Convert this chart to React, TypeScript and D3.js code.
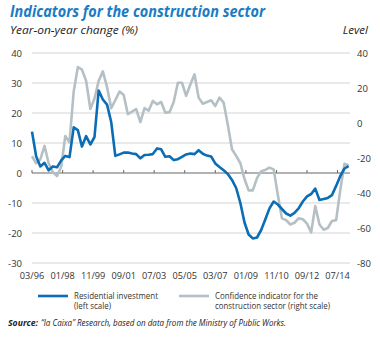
import React from 'react';
import * as d3 from 'd3';

// quarterly observations, first one is March 1996
const startMonth = new Date(1996, 2, 1);

const residential = [
  13.8, 5.5, 2.2, 3.4, 0.9, 2.2, 1.9, 4.2, 5.7, 5.3,
  15.2, 14.3, 8.8, 12.3, 9.5, 12, 27.5, 24.5, 22.8, 17,
  5.7, 6.2, 6.8, 6.8, 6.5, 6.3, 4.9, 6, 6.1, 6.3,
  8.2, 7.9, 5.4, 5.6, 4.3, 4.6, 5.4, 6.2, 6.5, 6.3,
  7.6, 6.4, 5.8, 5.5, 3.2, 2, 0.9, -0.3, -2.3, -5,
  -10, -16.5, -20.5, -21.8, -21.5, -19, -15.5, -11.8, -9.5, -10.5,
  -12, -13.5, -14.2, -13.3, -11.8, -9.5, -7.8, -7, -5.2, -9,
  -8.7, -8.3, -7.4, -4.3, -1, 1.5, 2.3
];

const confidence = [
  -19, -23, -20.7, -13.1, -23, -28.2, -30.3, -25, -7.4, -11,
  18, 32, 30.5, 24, 8, 14, 24, 29.5, 20.5, 8.5,
  13, 18, 16, 5, 6.5, 8, 0.5, 8.5, 7, 12.6,
  10.7, 12, 5.9, 6.2, 12, 23, 23, 15.5, 22, 27.8,
  14.5, 11, 12, 13, 9.7, 14.5, 11.6, -1, -15, -18.8,
  -23, -32, -38.5, -38.5, -31.5, -27.5, -26.8, -25.5, -26.5, -41,
  -54.5, -55.5, -58, -57, -54.5, -55, -57.5, -62.5, -47.4, -58,
  -61, -60, -56, -55.5, -38, -23.3, -24.3
];

const leftTicks = [40, 30, 20, 10, 0, -10, -20, -30];
const rightTicks = [40, 20, 0, -20, -40, -60, -80];
const xTickLabels = ['03/96', '01/98', '11/99', '09/01', '07/03', '05/05', '03/07', '01/09', '11/10', '09/12', '07/14'];

const BLUE = '#0a6db5';
const GREY = '#b5c0c5';
const FONT = '"Open Sans", "DejaVu Sans", sans-serif';

const monthsAt = (m: number) => new Date(startMonth.getFullYear(), startMonth.getMonth() + m, 1);
const parseTick = (s: string) => {
  const [mm, yy] = s.split('/').map(Number);
  return new Date(yy > 50 ? 1900 + yy : 2000 + yy, mm - 1, 1);
};

export default function App() {
  const width = 380;
  const height = 338;
  const left = 32;
  const right = 350;
  const top = 53;
  const bottom = 263;

  const x = d3.scaleTime()
    .domain([startMonth, monthsAt(229)])
    .range([left, right]);

  const yL = d3.scaleLinear().domain([-30, 40]).range([bottom, top]);
  const yR = d3.scaleLinear().domain([-80, 40]).range([bottom, top]);

  const lineL = d3.line<number>()
    .x((_, i) => x(monthsAt(i * 3)))
    .y(d => yL(d));
  const lineR = d3.line<number>()
    .x((_, i) => x(monthsAt(i * 3)))
    .y(d => yR(d));

  return (
    <svg width={width} height={height} style={{ position: 'absolute', left: 0, top: 0 }} fontFamily={FONT}>
      <rect width={width} height={height} fill="#fff" />
      <text x={10} y={17} fontSize={16.5} fontWeight="bold" fontStyle="italic" fill="#1a7cc4" textLength={255} lengthAdjust="spacingAndGlyphs">
        Indicators for the construction sector
      </text>
      <text x={10} y={34} fontSize={11.5} fontStyle="italic" fill="#222" textLength={128} lengthAdjust="spacingAndGlyphs">
        Year-on-year change (%)
      </text>
      <text x={368} y={34} fontSize={11.5} fontStyle="italic" fill="#222" textAnchor="end">Level</text>

      {leftTicks.map(t => (
        <g key={'l' + t}>
          {t !== 0 && <line x1={left} x2={right} y1={yL(t)} y2={yL(t)} stroke="#d4d4d4" strokeWidth={1} />}
          <text x={22} y={yL(t) + 3.5} fontSize={9.5} textAnchor="end" fill="#333">{t}</text>
        </g>
      ))}
      {rightTicks.map(t => (
        <text key={'r' + t} x={357} y={yR(t) + 3.5} fontSize={9.5} fill="#333">{t}</text>
      ))}

      <line x1={left} x2={right} y1={yL(0)} y2={yL(0)} stroke="#666" strokeWidth={1} />
      {xTickLabels.map(s => {
        const px = x(parseTick(s));
        return (
          <g key={s}>
            <line x1={px} x2={px} y1={yL(0) - 3} y2={yL(0)} stroke="#666" />
            <text x={px} y={279} fontSize={9.2} textAnchor="middle" fill="#333">{s}</text>
          </g>
        );
      })}

      <path d={lineR(confidence) || ''} fill="none" stroke={GREY} strokeWidth={2.6} strokeLinejoin="round" />
      <path d={lineL(residential) || ''} fill="none" stroke={BLUE} strokeWidth={2.6} strokeLinejoin="round" />

      <line x1={38} x2={68} y1={296} y2={296} stroke={BLUE} strokeWidth={2.6} />
      <text x={74} y={298.5} fontSize={8.6} fill="#333" textLength={84} lengthAdjust="spacingAndGlyphs">Residential investment</text>
      <text x={74} y={309} fontSize={8.6} fill="#333" textLength={37} lengthAdjust="spacingAndGlyphs">(left scale)</text>
      <line x1={179} x2={209} y1={296} y2={296} stroke={GREY} strokeWidth={2.6} />
      <text x={215} y={298.5} fontSize={8.6} fill="#333" textLength={103} lengthAdjust="spacingAndGlyphs">Confidence indicator for the</text>
      <text x={215} y={309} fontSize={8.6} fill="#333" textLength={115} lengthAdjust="spacingAndGlyphs">construction sector (right scale)</text>

      <text x={8} y={326} fontSize={9} fontStyle="italic" fontWeight="bold" fill="#222" textLength={30} lengthAdjust="spacingAndGlyphs">Source:</text>
      <text x={41} y={326} fontSize={9} fontStyle="italic" fill="#222" textLength={245} lengthAdjust="spacingAndGlyphs">
        “la Caixa” Research, based on data from the Ministry of Public Works.
      </text>
    </svg>
  );
}
